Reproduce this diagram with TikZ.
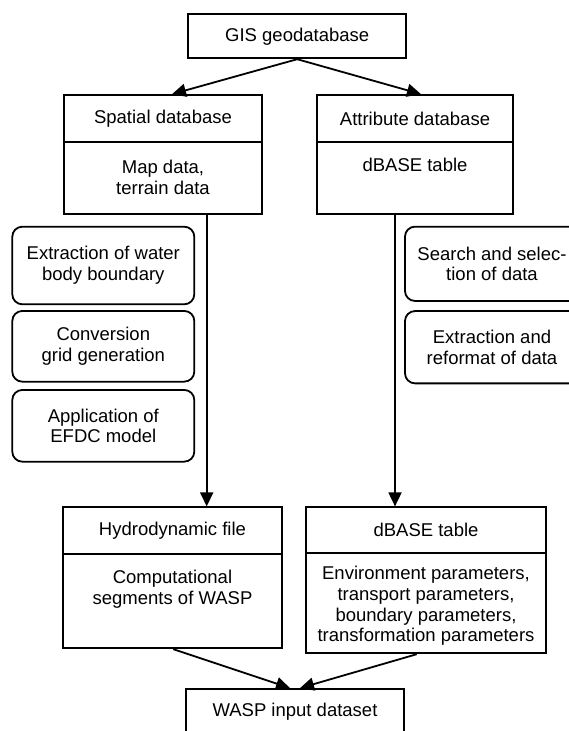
\documentclass[tikz,border=0pt]{standalone}
\usepackage{fontspec}
\setmainfont{Liberation Sans}
\usetikzlibrary{arrows.meta}
\begin{document}
\begin{tikzpicture}[x=1pt,y=-1pt,
  every node/.style={font=\fontsize{18.5}{20.8}\selectfont, align=center, inner sep=0pt},
  box/.style={draw, line width=1.8pt, rectangle},
  rbox/.style={draw, line width=1.8pt, rectangle, rounded corners=10pt},
  arr/.style={line width=1.8pt, -{Triangle[length=14pt,width=13pt]}}
]
\useasboundingbox (0,0) rectangle (569,731);
\clip (0,0) rectangle (569,731);

% top
\node[box, minimum width=217.7pt, minimum height=44pt] (gis) at (297.2,36.3) {GIS geodatabase};

% spatial database
\node[box, minimum width=197.4pt, minimum height=47.3pt] (spt) at (163,118.7) {Spatial database};
\node[box, minimum width=197.4pt, minimum height=71.7pt] (spb) at (163,178.2) {};
\node (spbt) at (163,177) {Map data,\\terrain data};

% attribute database
\node[box, minimum width=196.6pt, minimum height=47.3pt] (att) at (415,118.7) {Attribute database};
\node[box, minimum width=196.6pt, minimum height=71.7pt] (atb) at (415,178.2) {};
\node (atbt) at (415,165.3) {dBASE table};

% left process boxes
\node[rbox, minimum width=182pt, minimum height=77.6pt] (l1) at (103.3,265.5) {Extraction of water\\body boundary};
\node[rbox, minimum width=182pt, minimum height=70.7pt] (l2) at (103.3,346.3) {Conversion\\grid generation};
\node[rbox, minimum width=182pt, minimum height=71.7pt] (l3) at (103.3,425.8) {Application of\\EFDC model};

% right process boxes
\node[rbox, minimum width=174pt, minimum height=74.3pt] (r1) at (492,263.8) {Search and selec-\\tion of data};
\node[rbox, minimum width=174pt, minimum height=72.3pt] (r2) at (492,347.2) {Extraction and\\reformat of data};

% hydrodynamic file
\node[box, minimum width=218.4pt, minimum height=47pt] (hyt) at (172.5,530.8) {Hydrodynamic file};
\node[box, minimum width=218.4pt, minimum height=94pt] (hyb) at (172.5,601.3) {};
\node (hybt) at (172.5,589.3) {Computational\\segments of WASP};

% dBASE table
\node[box, minimum width=240pt, minimum height=46pt] (dbt) at (426,530.3) {dBASE table};
\node[box, minimum width=240pt, minimum height=100pt] (dbb) at (426,603.3) {};
\node (dbbt) at (426,606) {Environment parameters,\\transport parameters,\\boundary parameters,\\transformation parameters};

% WASP
\node[box, minimum width=218.6pt, minimum height=46pt] (wasp) at (295,712) {WASP input dataset};

% connectors
\draw[arr] (gis.south) -- ([xshift=9pt]spt.north);
\draw[arr] (gis.south) -- ([xshift=6pt]att.north);
\draw[arr] ([xshift=43.7pt]spb.south) -- ([xshift=34.2pt]hyt.north);
\draw[arr] ([xshift=-20pt]atb.south) -- ([xshift=-31pt]dbt.north);
\draw[arr] ([xshift=0.8pt]hyb.south) -- ([xshift=-5pt]wasp.north);
\draw[arr] ([xshift=-9.3pt]dbb.south) -- ([xshift=5pt]wasp.north);
\end{tikzpicture}
\end{document}
